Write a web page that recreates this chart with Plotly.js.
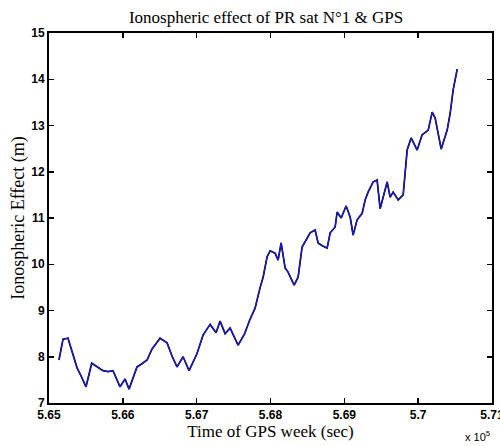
<!DOCTYPE html>
<html><head><meta charset="utf-8">
<script src="https://cdn.plot.ly/plotly-3.0.1.min.js"></script>
<style>html,body{margin:0;padding:0;background:#fff}#c{width:500px;height:446px}</style>
</head><body><div id="c"></div>
<script>
// Time of GPS week (sec)
var timeSec = [565135,565190,565257,565320,565380,565430,565501,565579,565650,565732,565800,565867,565962,566030,566084,566192,566260,566328,566396,566450,566504,566599,566670,566734,566816,566897,567005,567087,567182,567263,567317,567385,567453,567561,567650,567720,567791,567860,567900,567954,567995,568062,568103,568144,568198,568238,568320,568374,568428,568537,568604,568645,568700,568767,568808,568875,568903,568957,569024,569079,569119,569173,569241,569282,569322,569390,569444,569485,569580,569620,569661,569729,569797,569851,569905,569986,570054,570136,570190,570230,570312,570393,570434,570474,570529];
// Ionospheric effect (m)
var ionoEffect = [7.93,8.38,8.4,8.08,7.76,7.6,7.35,7.86,7.78,7.7,7.68,7.7,7.35,7.52,7.3,7.78,7.85,7.93,8.17,8.28,8.4,8.3,8.0,7.78,8.0,7.7,8.07,8.47,8.7,8.52,8.77,8.5,8.62,8.25,8.5,8.8,9.05,9.5,9.72,10.16,10.29,10.24,10.09,10.46,9.92,9.83,9.55,9.72,10.37,10.68,10.74,10.46,10.4,10.35,10.68,10.8,11.13,11.0,11.26,11.02,10.63,10.96,11.1,11.39,11.56,11.78,11.82,11.2,11.78,11.45,11.56,11.39,11.5,12.47,12.73,12.47,12.8,12.9,13.29,13.16,12.49,12.9,13.27,13.77,14.22];
var xTickVals = [565000,566000,567000,568000,569000,570000,571000];
var xTickText = ['5.65','5.66','5.67','5.68','5.69','5.7','5.71'];
var yTickVals = [7,8,9,10,11,12,13,14,15];

var serif = 'Liberation Serif, Times New Roman, serif';
var sans = 'Liberation Sans, Arial, sans-serif';
var data = [
 {x: timeSec, y: ionoEffect, mode: 'lines', line: {color: '#000000', width: 1.7}, hoverinfo: 'skip', showlegend: false},
 {x: timeSec, y: ionoEffect, mode: 'lines', line: {color: '#1a1ad8', width: 1.2}, showlegend: false}
];
var layout = {
 width: 500, height: 446,
 margin: {l: 49, r: 8, t: 33, b: 43},
 paper_bgcolor: '#fff', plot_bgcolor: '#fff',
 title: {text: 'Ionospheric effect of PR sat N°1 &amp; GPS', font: {family: serif, size: 17, color: '#000'}, xref: 'paper', x: 0.49, xanchor: 'center', y: 0.962, yanchor: 'middle'},
 xaxis: {range: [565000, 571000], tickvals: xTickVals, ticktext: xTickText, ticks: 'inside', ticklen: 5, tickcolor: '#000', tickwidth: 1.5,
   showline: true, linecolor: '#000', linewidth: 2, mirror: 'ticks', showgrid: false, zeroline: false, ticklabeloverflow: 'allow',
   tickfont: {family: sans, size: 12, color: '#000', weight: 'bold'},
   title: {text: 'Time of GPS week (sec)', font: {family: serif, size: 17, color: '#000'}, standoff: 3}},
 yaxis: {range: [7, 15], tickvals: yTickVals, ticks: 'inside', ticklen: 5, tickcolor: '#000', tickwidth: 1.5,
   showline: true, linecolor: '#000', linewidth: 2, mirror: 'ticks', showgrid: false, zeroline: false, ticklabeloverflow: 'allow',
   tickfont: {family: sans, size: 12, color: '#000', weight: 'bold'},
   title: {text: 'Ionospheric Effect (m)', font: {family: serif, size: 18, color: '#000'}, standoff: 2}},
 annotations: [{text: 'x 10<sup>5</sup>', xref: 'paper', yref: 'paper', x: 0.968, y: -0.088, xanchor: 'center', yanchor: 'middle', showarrow: false, font: {family: sans, size: 11, color: '#000'}}]
};
Plotly.newPlot('c', data, layout, {staticPlot: true});
</script></body></html>
